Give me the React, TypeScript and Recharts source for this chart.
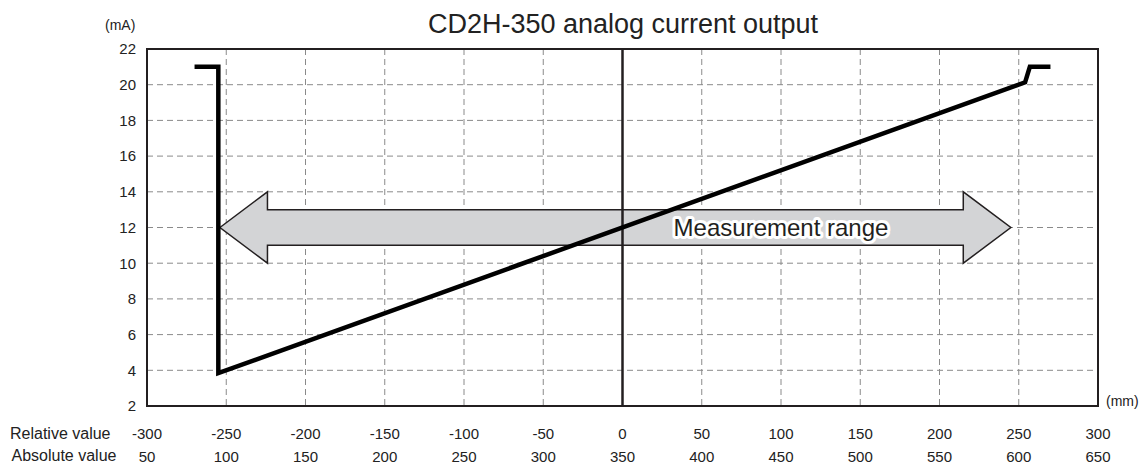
import { CartesianGrid, Line, LineChart, ReferenceArea, ReferenceDot, ReferenceLine, XAxis, YAxis } from "recharts";

const FONT = '"Liberation Sans", Arial, sans-serif';
const INK = "#231f20";

// output curve (mm, mA)
const OUTPUT_X = [-270, -255, -255, 254, 257, 270];
const OUTPUT_MA = [21, 21, 3.84, 20.13, 21, 21];

const RELATIVE_TICKS = [-300, -250, -200, -150, -100, -50, 0, 50, 100, 150, 200, 250, 300];
const ABSOLUTE_TICKS = [50, 100, 150, 200, 250, 300, 350, 400, 450, 500, 550, 600, 650];
const MA_TICKS = [2, 4, 6, 8, 10, 12, 14, 16, 18, 20, 22];

// double arrow for the measurement range
const ARROW_TIPS = [-254, 245];
const ARROW_HEAD_LEN = 30;
const ARROW_HEAD_MA = [10, 14];
const ARROW_SHAFT_MA = [11, 13];
const ARROW_LABEL = { x: 100, y: 12, text: "Measurement range" };

const data = OUTPUT_X.map((x, i) => ({ x, ma: OUTPUT_MA[i] }));

function ArrowShape(props: any) {
  const { x, y, width, height } = props;
  const span = ARROW_TIPS[1] - ARROW_TIPS[0];
  const head = (ARROW_HEAD_LEN / span) * width;
  const hSpan = ARROW_HEAD_MA[1] - ARROW_HEAD_MA[0];
  const sTop = y + ((ARROW_HEAD_MA[1] - ARROW_SHAFT_MA[1]) / hSpan) * height;
  const sBot = y + ((ARROW_HEAD_MA[1] - ARROW_SHAFT_MA[0]) / hSpan) * height;
  const mid = y + height / 2;
  const l = x;
  const r = x + width;
  const pts = [
    [l, mid],
    [l + head, y],
    [l + head, sTop],
    [r - head, sTop],
    [r - head, y],
    [r, mid],
    [r - head, y + height],
    [r - head, sBot],
    [l + head, sBot],
    [l + head, y + height],
  ]
    .map((p) => p.join(","))
    .join(" ");
  return <polygon points={pts} fill="#d3d4d6" stroke={INK} strokeWidth={1.5} strokeLinejoin="miter" />;
}

function RangeLabel(props: any) {
  const { cx, cy } = props;
  return (
    <text
      x={cx}
      y={cy}
      textAnchor="middle"
      dominantBaseline="central"
      fontFamily={FONT}
      fontSize={24}
      fill={INK}
      stroke="#fff"
      strokeWidth={6}
      strokeLinejoin="round"
      paintOrder="stroke"
    >
      {ARROW_LABEL.text}
    </text>
  );
}

function XTick(props: any) {
  const { x, y, payload } = props;
  const i = RELATIVE_TICKS.indexOf(payload.value);
  return (
    <g fontFamily={FONT} fontSize={15} fill="#222">
      <text x={x} y={y + 33} textAnchor="middle" fill="#222">
        {RELATIVE_TICKS[i]}
      </text>
      <text x={x} y={y + 56} textAnchor="middle" fill="#222">
        {ABSOLUTE_TICKS[i]}
      </text>
    </g>
  );
}

const txt = (extra: React.CSSProperties): React.CSSProperties => ({
  position: "absolute",
  fontFamily: FONT,
  lineHeight: 1,
  whiteSpace: "nowrap",
  color: "#222",
  ...extra,
});

export default function App() {
  return (
    <div style={{ position: "absolute", left: 0, top: 0, width: 1145, height: 465, background: "#fff" }}>
      <div style={txt({ left: 623, top: 10.5, fontSize: 27, transform: "translateX(-50%)" })}>
        CD2H-350 analog current output
      </div>
      <div style={txt({ left: 105, top: 18, fontSize: 14 })}>(mA)</div>
      <div style={txt({ left: 1106, top: 394, fontSize: 14 })}>(mm)</div>
      <div style={txt({ left: 10, top: 426, fontSize: 16 })}>Relative value</div>
      <div style={txt({ left: 11.5, top: 448, fontSize: 16 })}>Absolute value</div>
      <LineChart
        width={1145}
        height={465}
        data={data}
        margin={{ top: 49, right: 47, bottom: 0, left: 107 }}
      >
        <CartesianGrid stroke="#8a8a8a" strokeDasharray="6 4" strokeWidth={1} />
        <XAxis
          dataKey="x"
          type="number"
          domain={[-300, 300]}
          ticks={RELATIVE_TICKS}
          interval={0}
          axisLine={false}
          tickLine={false}
          tickSize={0}
          tickMargin={0}
          height={59}
          tick={<XTick />}
        />
        <YAxis
          type="number"
          domain={[2, 22]}
          ticks={MA_TICKS}
          interval={0}
          axisLine={false}
          tickLine={false}
          tickSize={0}
          tickMargin={11}
          width={40}
          tick={{ fontFamily: FONT, fontSize: 15, fill: "#222" }}
        />
        <ReferenceArea
          x1={ARROW_TIPS[0]}
          x2={ARROW_TIPS[1]}
          y1={ARROW_HEAD_MA[0]}
          y2={ARROW_HEAD_MA[1]}
          shape={<ArrowShape />}
        />
        <ReferenceLine x={0} stroke={INK} strokeWidth={2.5} />
        <Line
          dataKey="ma"
          type="linear"
          stroke="#000"
          strokeWidth={4.5}
          strokeLinejoin="miter"
          dot={false}
          isAnimationActive={false}
        />
        <ReferenceDot x={ARROW_LABEL.x} y={ARROW_LABEL.y} r={0} shape={<RangeLabel />} />
        <ReferenceArea x1={-300} x2={300} y1={2} y2={22} fill="none" stroke={INK} strokeWidth={2} />
      </LineChart>
    </div>
  );
}
